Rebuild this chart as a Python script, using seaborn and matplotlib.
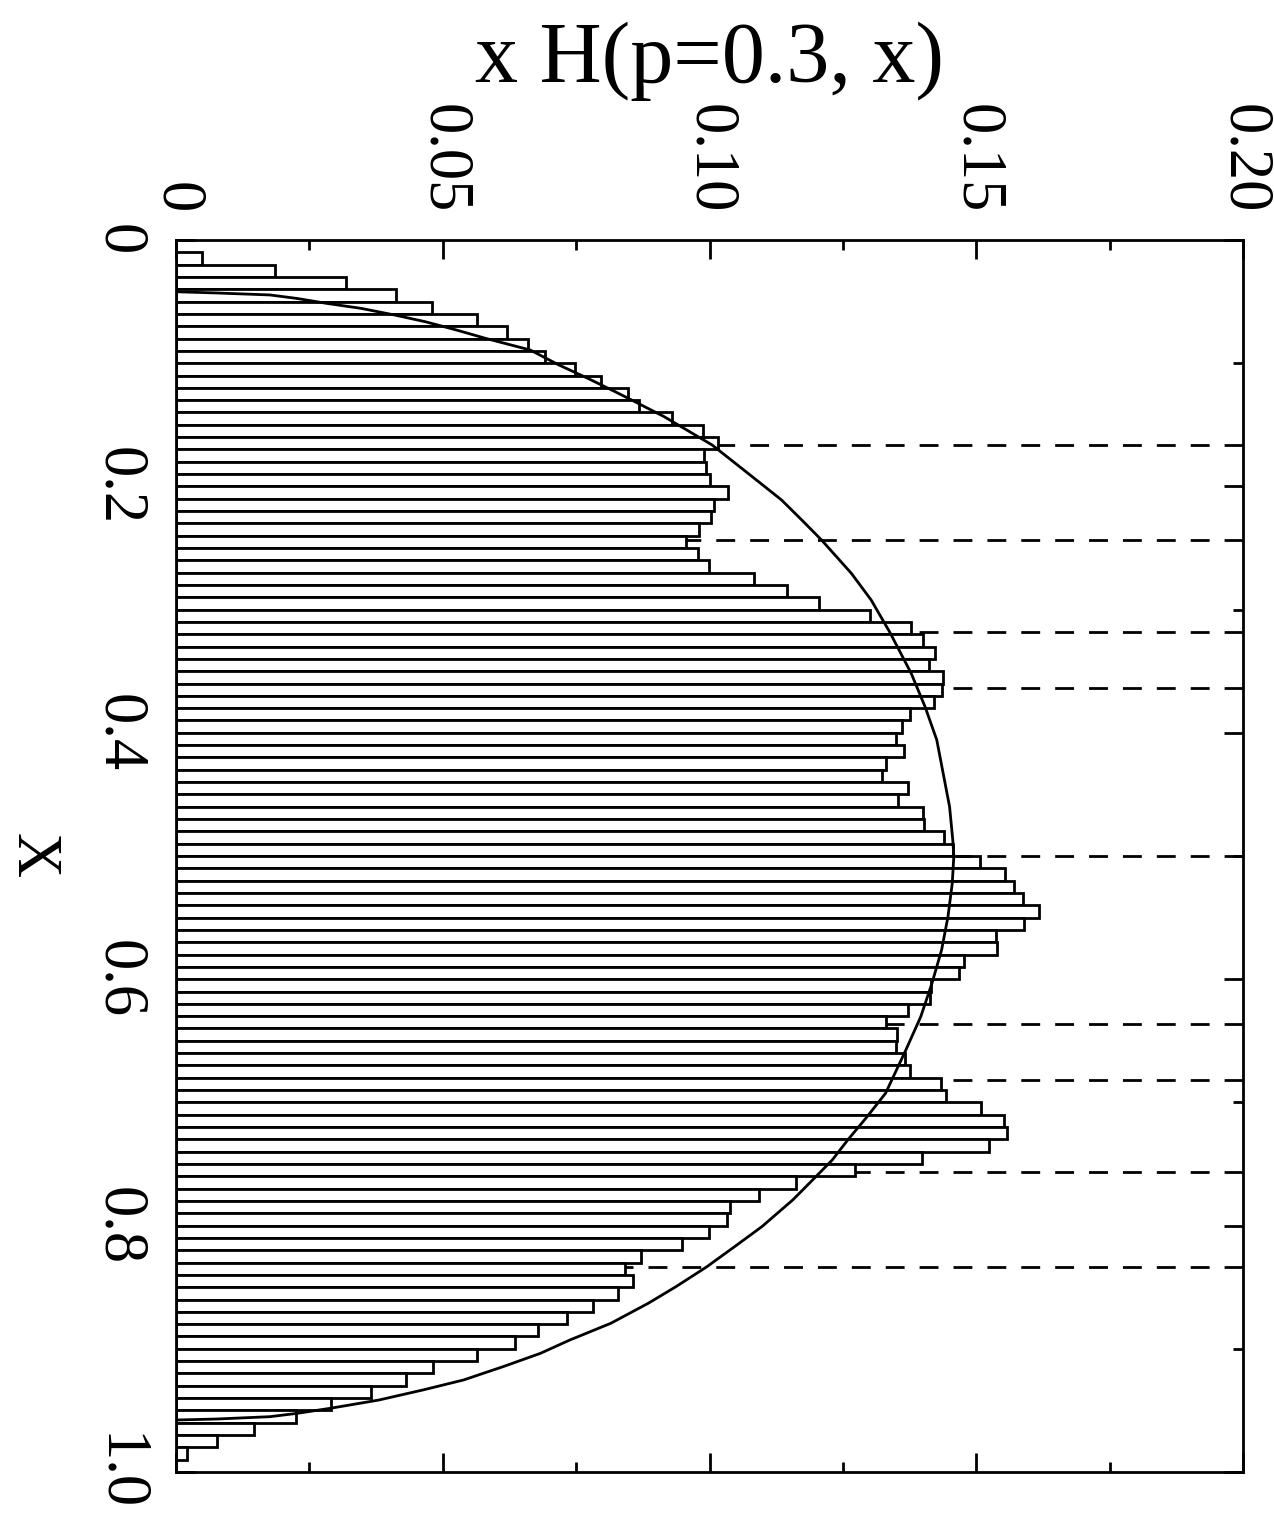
import numpy as np
import pandas as pd
import matplotlib
matplotlib.use("Agg")
import matplotlib.pyplot as plt
from matplotlib.ticker import FixedLocator, MultipleLocator
import seaborn as sns

# Histogram of x*H(p=0.3, x): 100 bins of width 0.01 on [0, 1]
bin_width = 0.01
bar_heights = [
    0.0000, 0.0049, 0.0186, 0.0319, 0.0412, 0.0480, 0.0564, 0.0620, 0.0659, 0.0692,
    0.0747, 0.0796, 0.0847, 0.0868, 0.0929, 0.0988, 0.1015, 0.0990, 0.0993, 0.1000,
    0.1034, 0.1008, 0.1003, 0.0980, 0.0956, 0.0978, 0.0999, 0.1083, 0.1145, 0.1206,
    0.1301, 0.1377, 0.1400, 0.1422, 0.1412, 0.1438, 0.1436, 0.1421, 0.1375, 0.1361,
    0.1350, 0.1365, 0.1331, 0.1323, 0.1373, 0.1354, 0.1400, 0.1402, 0.1440, 0.1457,
    0.1507, 0.1553, 0.1570, 0.1587, 0.1618, 0.1590, 0.1537, 0.1539, 0.1477, 0.1468,
    0.1415, 0.1414, 0.1372, 0.1330, 0.1352, 0.1350, 0.1366, 0.1376, 0.1434, 0.1443,
    0.1508, 0.1552, 0.1558, 0.1523, 0.1398, 0.1273, 0.1163, 0.1093, 0.1038, 0.1033,
    0.0999, 0.0948, 0.0871, 0.0842, 0.0857, 0.0829, 0.0781, 0.0732, 0.0678, 0.0636,
    0.0564, 0.0481, 0.0432, 0.0366, 0.0291, 0.0224, 0.0147, 0.0077, 0.0021, 0.0000,
]

# Smooth envelope curve
curve_x = [0.0420, 0.0430, 0.0446, 0.0474, 0.0514, 0.0555, 0.0609, 0.0663, 0.0731,
           0.0798, 0.0893, 0.1015, 0.1123, 0.1231, 0.1312, 0.1434, 0.1664, 0.1907,
           0.2110, 0.2273, 0.2435, 0.2706, 0.2922, 0.3184, 0.3517, 0.3788, 0.4058,
           0.4329, 0.4600, 0.4870, 0.5000, 0.5222, 0.5493, 0.5763, 0.6033, 0.6304,
           0.6575, 0.6926, 0.7129, 0.7300, 0.7468, 0.7600, 0.7792, 0.8009, 0.8171,
           0.8334, 0.8496, 0.8631, 0.8793, 0.8929, 0.9037, 0.9145, 0.9253, 0.9334,
           0.9416, 0.9483, 0.9524, 0.9551, 0.9570, 0.9578]
curve_h = [0.0000, 0.0076, 0.0176, 0.0226, 0.0282, 0.0347, 0.0410, 0.0467, 0.0526,
           0.0580, 0.0664, 0.0718, 0.0772, 0.0823, 0.0860, 0.0915, 0.1005, 0.1076,
           0.1135, 0.1173, 0.1210, 0.1266, 0.1303, 0.1338, 0.1378, 0.1404, 0.1426,
           0.1438, 0.1450, 0.1456, 0.1458, 0.1455, 0.1447, 0.1435, 0.1417, 0.1396,
           0.1368, 0.1330, 0.1293, 0.1260, 0.1230, 0.1200, 0.1156, 0.1098, 0.1047,
           0.0995, 0.0937, 0.0885, 0.0815, 0.0738, 0.0683, 0.0613, 0.0539, 0.0463,
           0.0380, 0.0289, 0.0227, 0.0176, 0.0076, 0.0000]

# Marked x positions and the value where each dashed marker begins
marker_x = [0.1665, 0.2433, 0.3182, 0.3637, 0.5000, 0.6363, 0.6818, 0.7567, 0.8335]
marker_start = [0.1015, 0.0956, 0.1385, 0.1436, 0.1462, 0.1330, 0.1434, 0.1273, 0.0842]

value_ticks = [0.0, 0.05, 0.10, 0.15, 0.20]
value_tick_labels = ["0", "0.05", "0.10", "0.15", "0.20"]
x_ticks = [0.0, 0.2, 0.4, 0.6, 0.8, 1.0]
x_tick_labels = ["0", "0.2", "0.4", "0.6", "0.8", "1.0"]

LW = 2.0

sns.set_style("white")
plt.rcParams["font.family"] = ["Liberation Serif", "DejaVu Serif"]
plt.rcParams["axes.edgecolor"] = "black"
plt.rcParams["axes.linewidth"] = LW
plt.rcParams["text.color"] = "black"
plt.rcParams["axes.labelcolor"] = "black"
plt.rcParams["xtick.color"] = "black"
plt.rcParams["ytick.color"] = "black"

W, H = 1274, 1518
fig = plt.figure(figsize=(W / 100, H / 100), dpi=100)
left, right, top, bottom = 176, 1243, 240, 1472
ax = fig.add_axes([left / W, 1 - bottom / H, (right - left) / W, (bottom - top) / H])

df = pd.DataFrame({
    "x": np.arange(len(bar_heights)) * bin_width + bin_width / 2,
    "h": bar_heights,
})
sns.histplot(data=df, y="x", weights="h", binwidth=bin_width, binrange=(0, 1),
             color="white", edgecolor="black", linewidth=LW, alpha=1, ax=ax)

sns.lineplot(x=curve_h, y=curve_x, sort=False, estimator=None,
             color="black", linewidth=LW, ax=ax)

# dashed markers run from the right frame in to the histogram
for xm, s in zip(marker_x, marker_start):
    ax.plot([0.20, s], [xm, xm], color="black", linewidth=LW,
            linestyle=(0, (6.8, 5.4)))

ax.set_xlim(0, 0.20)
ax.set_ylim(1.0, 0.0)

ax.xaxis.set_major_locator(FixedLocator(value_ticks))
ax.xaxis.set_minor_locator(MultipleLocator(0.025))
ax.yaxis.set_major_locator(FixedLocator(x_ticks))
ax.yaxis.set_minor_locator(MultipleLocator(0.1))
ax.set_xticklabels(value_tick_labels)
ax.set_yticklabels(x_tick_labels)

ax.tick_params(which="both", direction="in", top=True, bottom=True, left=True,
               right=True, labeltop=True, labelbottom=False, labelleft=True,
               labelright=False, width=LW, color="black")
ax.tick_params(which="major", length=13.7)
ax.tick_params(which="minor", length=7.2)
ax.tick_params(axis="x", labelrotation=-90, pad=19, labelsize=45)
ax.tick_params(axis="y", labelrotation=-90, pad=21, labelsize=45)
for lab in ax.get_yticklabels():
    lab.set_verticalalignment("center")

ax.set_xlabel("x H(p=0.3, x)", fontsize=62)
ax.xaxis.set_label_position("top")
ax.xaxis.label.set(va="center", ha="center")
ax.xaxis.set_label_coords(0.5, (bottom - 61) / (bottom - top))

ax.set_ylabel("X", fontsize=45)
ax.yaxis.label.set(rotation=-90, va="center", ha="center", rotation_mode="default")
ax.yaxis.set_label_coords((32 - left) / (right - left), 0.5)

for sp in ax.spines.values():
    sp.set_visible(True)
    sp.set_linewidth(LW)
    sp.set_zorder(5)

fig.savefig("out.png", dpi=100, facecolor="white")
